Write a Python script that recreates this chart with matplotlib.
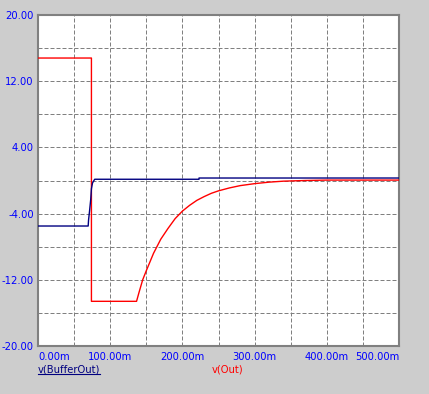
import numpy as np
import matplotlib.pyplot as plt
from matplotlib.lines import Line2D
from matplotlib.ticker import MultipleLocator

# time in ms, voltages
t_buf = [0, 69.5, 70, 71.5, 73, 74, 75.5, 78.5, 223, 223, 500]
v_buf = [-5.5, -5.5, -4.8, -3.6, -2.3, -1.0, -0.3, 0.15, 0.15, 0.3, 0.3]

t_out = [0, 74, 74, 136.5, 140, 145, 150, 160, 170, 180, 190, 200, 210, 220,
         230, 240, 250, 265, 280, 300, 320, 340, 370, 400, 500]
v_out = [14.8, 14.8, -14.6, -14.6, -13.5, -12.0, -10.9, -8.8, -7.1, -5.8, -4.6,
         -3.7, -3.0, -2.4, -1.95, -1.55, -1.25, -0.9, -0.62, -0.38, -0.2, -0.08,
         0.0, 0.05, 0.05]

x_ticks = [0, 100, 200, 300, 400, 500]
x_labels = ['0.00m', '100.00m', '200.00m', '300.00m', '400.00m', '500.00m']
y_ticks = [-20, -12, -4, 4, 12, 20]
y_labels = ['-20.00', '-12.00', '-4.00', '4.00', '12.00', '20.00']

bg = '#cdcdcd'
fig = plt.figure(figsize=(4.29, 3.94), dpi=100, facecolor=bg)
ax = fig.add_axes([38 / 429, 48 / 394, 361 / 429, 331 / 394])
ax.set_facecolor('white')

ax.plot(t_out, v_out, color='#ff0000', lw=1.0, zorder=3)
ax.plot(t_buf, v_buf, color='#000080', lw=1.0, zorder=4)

ax.set_xlim(0, 500)
ax.set_ylim(-20, 20)
ax.set_xticks(x_ticks)
ax.set_xticklabels(x_labels)
ax.set_yticks(y_ticks)
ax.set_yticklabels(y_labels)
ax.xaxis.set_minor_locator(MultipleLocator(50))
ax.yaxis.set_minor_locator(MultipleLocator(4))
# grey dashed grid, about 4px on / 2px off
ax.grid(True, which='both', color='#808080', lw=0.72, linestyle=(0, (4, 2)))
ax.tick_params(which='both', length=0, labelsize=7.2, labelcolor='#0000ff')
ax.tick_params(axis='x', pad=4.5)
ax.tick_params(axis='y', pad=3)
for s in ax.spines.values():
    s.set_color('#808080')
    s.set_linewidth(1.5)

xl = ax.get_xticklabels()
xl[0].set_ha('left')
xl[-1].set_ha('right')

# trace names below the plot
t1 = fig.text(38 / 429, 1 - 372.5 / 394, 'v(BufferOut)', color='#000080', fontsize=7.2,
              ha='left', va='baseline')
fig.text(212 / 429, 1 - 372.5 / 394, 'v(Out)', color='#ff0000', fontsize=7.2,
         ha='left', va='baseline')

fig.canvas.draw()
bb = t1.get_window_extent().transformed(fig.transFigure.inverted())
uy = 1 - 374 / 394
fig.lines.append(Line2D([bb.x0, bb.x1], [uy, uy], transform=fig.transFigure,
                        color='#000080', lw=0.8))

fig.savefig('out.png', dpi=100, facecolor=bg)
